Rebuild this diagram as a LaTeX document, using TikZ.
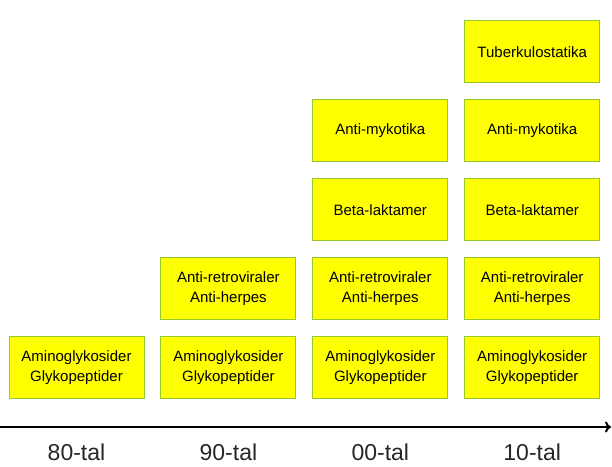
\documentclass[tikz,border=0pt]{standalone}
\usepackage{fontspec}
\setmainfont{Liberation Sans}
\usetikzlibrary{positioning,arrows.meta}

\definecolor{boxfill}{RGB}{255,255,0}
\definecolor{boxline}{RGB}{150,200,50}

\begin{document}
\begin{tikzpicture}[x=1pt, y=1pt, node distance=16pt,
  drug/.style={draw=boxline, fill=boxfill, line width=0.9pt,
               minimum width=135pt, minimum height=62pt, inner sep=2pt,
               align=center, font=\fontsize{15}{20}\selectfont},
  era/.style={font=\fontsize{23}{26}\selectfont, text=black!85, inner sep=1pt},
  timeline/.style={line width=2pt, -{To[length=6pt,width=11pt]}}]
\useasboundingbox (0,0) rectangle (612,466);
% bottom row
\node[drug] (amino80) at (76.5,98.5) {Aminoglykosider\\Glykopeptider};
\node[drug, right=of amino80] (amino90) {Aminoglykosider\\Glykopeptider};
\node[drug, right=of amino90] (amino00) {Aminoglykosider\\Glykopeptider};
\node[drug, right=of amino00] (amino10) {Aminoglykosider\\Glykopeptider};
% stacks
\node[drug, above=of amino90] (retro90) {Anti-retroviraler\\Anti-herpes};
\node[drug, above=of amino00] (retro00) {Anti-retroviraler\\Anti-herpes};
\node[drug, above=of retro00] (beta00) {Beta-laktamer};
\node[drug, above=of beta00] (myko00) {Anti-mykotika};
\node[drug, above=of amino10] (retro10) {Anti-retroviraler\\Anti-herpes};
\node[drug, above=of retro10] (beta10) {Beta-laktamer};
\node[drug, above=of beta10] (myko10) {Anti-mykotika};
\node[drug, above=of myko10] (tb10) {Tuberkulostatika};
% time axis
\coordinate (axstart) at (0,39);
\coordinate (axend) at (611,39);
\draw[timeline] (axstart) -- (axend);
\coordinate (eraline) at (0,13.5);
\node[era] (t80) at (amino80 |- eraline) {80-tal};
\node[era] (t90) at (amino90 |- eraline) {90-tal};
\node[era] (t00) at (amino00 |- eraline) {00-tal};
\node[era] (t10) at (amino10 |- eraline) {10-tal};
\end{tikzpicture}
\end{document}
